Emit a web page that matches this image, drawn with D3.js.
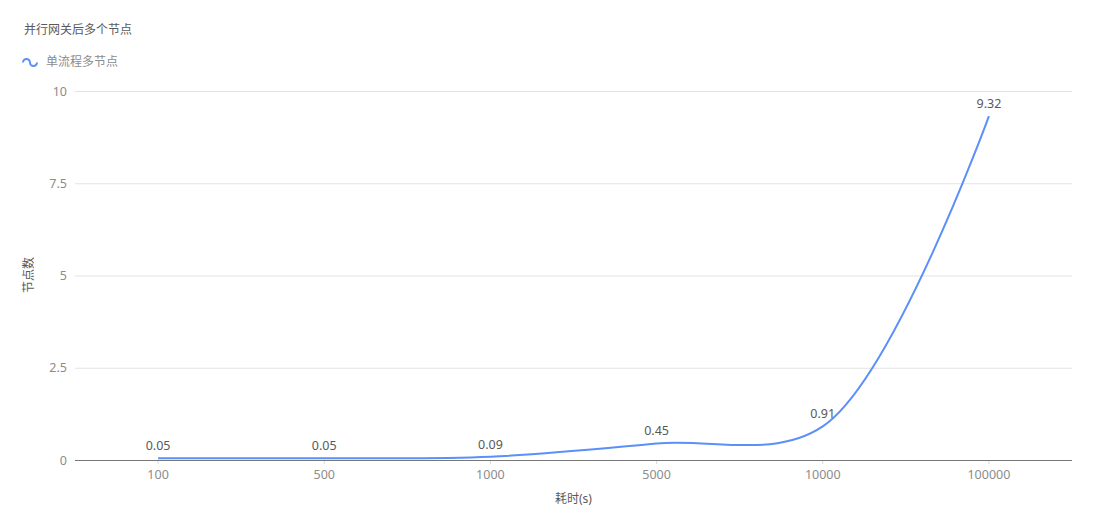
<!DOCTYPE html>
<html>
<head>
<meta charset="utf-8">
<script src="https://cdn.jsdelivr.net/npm/d3@7/dist/d3.min.js"></script>
<style>
  html, body { margin: 0; padding: 0; background: #fff; }
  svg { display: block; font-family: "Noto Sans", "Noto Sans CJK SC", sans-serif; }
</style>
</head>
<body>
<svg id="chart" width="1097" height="532"></svg>
<script>
const title = "并行网关后多个节点";
const seriesName = "单流程多节点";
const categories = ["100", "500", "1000", "5000", "10000", "100000"];
const values = [0.05, 0.05, 0.09, 0.45, 0.91, 9.32];
const yTicks = [0, 2.5, 5, 7.5, 10];
const xTitle = "耗时(s)";
const yTitle = "节点数";

const svg = d3.select("#chart");
const plotLeft = 75, plotRight = 1072, plotTop = 91, plotBottom = 460;

const x = d3.scaleBand().domain(categories).range([plotLeft, plotRight]);
const y = d3.scaleLinear().domain([0, 10]).range([plotBottom, plotTop]);
const cx = d => x(d) + x.bandwidth() / 2;

// title
svg.append("text").attr("x", 24).attr("y", 30.5).attr("dominant-baseline", "middle")
  .attr("font-size", 12).attr("fill", "#595959").text(title);

// legend
svg.append("path")
  .attr("d", "M23,62.5 A3.5,3.5 0 1 1 30,62.5 A3.5,3.5 0 1 0 37,62.5")
  .attr("fill", "none").attr("stroke", "#5B8FF9").attr("stroke-width", 2);
svg.append("text").attr("x", 46).attr("y", 62.5).attr("dominant-baseline", "middle")
  .attr("font-size", 12).attr("fill", "#8c8c8c").text(seriesName);

// grid
svg.append("g").selectAll("line").data(yTicks.filter(t => t !== 0)).join("line")
  .attr("x1", plotLeft).attr("x2", plotRight)
  .attr("y1", d => y(d) + 0.5).attr("y2", d => y(d) + 0.5)
  .attr("stroke", "#e3e3e3").attr("stroke-width", 1);

// y axis labels
const yAxis = d3.axisLeft(y).tickValues(yTicks).tickSize(0).tickPadding(8).tickFormat(d => String(d));
const yg = svg.append("g").attr("transform", `translate(${plotLeft},0)`).call(yAxis);
yg.select(".domain").remove();
yg.attr("font-family", null).attr("font-size", null);
yg.selectAll("text").attr("font-size", 12.5).attr("fill", "#8c8c8c");

// x axis
const xAxis = d3.axisBottom(x).tickSize(4).tickPadding(6);
const xg = svg.append("g").attr("transform", `translate(0,${plotBottom})`).call(xAxis);
xg.attr("font-family", null).attr("font-size", null);
xg.select(".domain").attr("d", `M${plotLeft},0.5H${plotRight}`).attr("stroke", "#777");
xg.selectAll(".tick line").attr("stroke", "#d9d9d9").attr("y1", 1);
xg.selectAll("text").attr("font-size", 12.5).attr("fill", "#8c8c8c");

// axis titles
svg.append("text").attr("x", (plotLeft + plotRight) / 2).attr("y", 500).attr("text-anchor", "middle")
  .attr("dominant-baseline", "middle").attr("font-size", 12).attr("fill", "#595959").text(xTitle);
svg.append("text").attr("transform", `translate(30,275) rotate(-90)`).attr("text-anchor", "middle")
  .attr("dominant-baseline", "middle").attr("font-size", 12).attr("fill", "#595959").text(yTitle);

// line
const data = categories.map((c, i) => ({c, v: values[i]}));
const line = d3.line().x(d => cx(d.c)).y(d => y(d.v)).curve(d3.curveCatmullRom.alpha(0.5));
svg.append("path").datum(data).attr("d", line)
  .attr("fill", "none").attr("stroke", "#5B8FF9").attr("stroke-width", 2);

// labels
svg.append("g").selectAll("text").data(data).join("text")
  .attr("x", d => cx(d.c)).attr("y", d => y(d.v) - 8)
  .attr("text-anchor", "middle").attr("font-size", 12.5).attr("fill", "#595959")
  .text(d => d.v.toFixed(2));
</script>
</body>
</html>
